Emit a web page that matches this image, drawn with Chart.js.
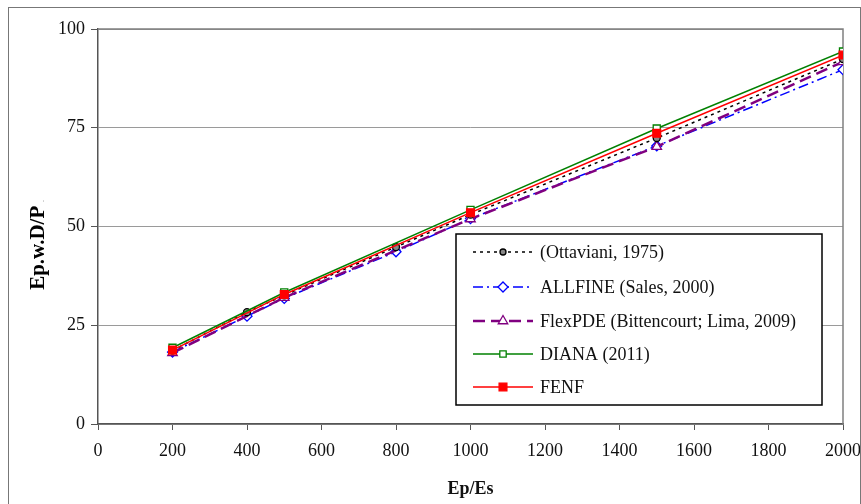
<!DOCTYPE html>
<html>
<head>
<meta charset="utf-8">
<script src="https://cdn.jsdelivr.net/npm/chart.js@4.4.1/dist/chart.umd.min.js"></script>
<style>
    html, body { margin: 0; padding: 0; background: #fff; }
    #wrap { position: relative; width: 861px; height: 504px; overflow: hidden; }
    #frame { position: absolute; left: 8px; top: 7px; width: 851px; height: 510px; border: 1px solid #777; pointer-events: none; }
    #ytitle { position: absolute; left: 37px; top: 245px; transform: translate(-50%, -50%) rotate(-90deg); font-family: "Liberation Serif", serif; font-weight: bold; font-size: 21px; white-space: nowrap; color: #000; }
</style>
</head>
<body>
<div id="wrap">
    <canvas id="chart" width="861" height="504"></canvas>
    <div id="ytitle">Ep.w.D/P <span style="font-size:6px;font-weight:normal">.</span></div>
    <div id="frame"></div>
</div>
<script>
// ===== Data =====
const xTicks = [0, 200, 400, 600, 800, 1000, 1200, 1400, 1600, 1800, 2000];
const yTicks = [0, 25, 50, 75, 100];

const ottavianiX = [200, 400, 500, 800, 1000, 1500, 2000];
const ottavianiY = [18.6, 28.3, 32.6, 44.8, 53.0, 72.4, 92.4];

const allfineX = [200, 400, 500, 800, 1000, 1500, 2000];
const allfineY = [18.2, 27.3, 31.8, 43.6, 52.0, 70.4, 89.7];

const flexX = [200, 500, 1000, 1500, 2000];
const flexY = [18.0, 32.0, 51.9, 70.2, 91.7];

const dianaX = [200, 500, 1000, 1500, 2000];
const dianaY = [19.3, 33.3, 54.2, 74.8, 94.3];

const fenfX = [200, 500, 1000, 1500, 2000];
const fenfY = [18.7, 32.8, 53.5, 73.6, 93.4];

const seriesNames = [
    '(Ottaviani, 1975)',
    'ALLFINE (Sales, 2000)',
    'FlexPDE (Bittencourt; Lima, 2009)',
    'DIANA (2011)',
    'FENF'
];

// ===== Styles =====
const colors = {
    ottaviani: '#000000',
    allfine: '#0000FF',
    flex: '#800080',
    diana: '#008000',
    fenf: '#FF0000',
    grid: '#9a9a9a',
    axis: '#555555'
};

const serif = 'Liberation Serif';

const toPoints = (xs, ys) => xs.map((x, i) => ({ x: x, y: ys[i] }));

const styles = [
    { color: colors.ottaviani, dash: [3, 4], width: 1.5, point: 'circle', radius: 3.5, fill: '#888888', legendRadius: 3 },
    { color: colors.allfine, dash: [10, 4, 2, 4], width: 1.5, point: 'rectRot', radius: 5, fill: '#ffffff', legendRadius: 5 },
    { color: colors.flex, dash: [12, 6], width: 2.5, point: 'triangle', radius: 5.5, fill: '#ffffff', legendRadius: 5.5 },
    { color: colors.diana, dash: [], width: 1.5, point: 'rect', radius: 5, fill: '#ffffff', legendRadius: 4.5 },
    { color: colors.fenf, dash: [], width: 1.5, point: 'rect', radius: 5.5, fill: colors.fenf, legendRadius: 5.5 }
];

const dataSeries = [
    toPoints(ottavianiX, ottavianiY),
    toPoints(allfineX, allfineY),
    toPoints(flexX, flexY),
    toPoints(dianaX, dianaY),
    toPoints(fenfX, fenfY)
];

// red drawn on top, then green, etc.
const drawOrder = [2, 4, 3, 1, 0];

const datasets = dataSeries.map((pts, i) => ({
    label: seriesNames[i],
    data: pts,
    borderColor: styles[i].color,
    borderWidth: styles[i].width,
    borderDash: styles[i].dash,
    pointStyle: styles[i].point,
    pointRadius: styles[i].radius,
    pointBorderWidth: 1.3,
    pointBorderColor: styles[i].color,
    pointBackgroundColor: styles[i].fill,
    tension: 0,
    fill: false,
    order: drawOrder[i]
}));

// ===== Plot area frame (top / right edges) =====
const frameBox = {
    id: 'frameBox',
    beforeDatasetsDraw(chart) {
        const { ctx, chartArea: a } = chart;
        ctx.save();
        ctx.strokeStyle = '#808080';
        ctx.lineWidth = 1.5;
        ctx.beginPath();
        ctx.moveTo(a.left, a.top);
        ctx.lineTo(a.right, a.top);
        ctx.lineTo(a.right, a.bottom);
        ctx.stroke();
        ctx.restore();
    }
};

// ===== Boxed legend in the lower right of the plot =====
const legendBox = {
    id: 'legendBox',
    afterDraw(chart) {
        const ctx = chart.ctx;
        const box = { x: 456, y: 234, w: 366, h: 171 };
        const rowY = [252, 287, 321, 354, 387];
        ctx.save();
        ctx.fillStyle = '#fff';
        ctx.fillRect(box.x, box.y, box.w, box.h);
        ctx.strokeStyle = '#000';
        ctx.lineWidth = 1.5;
        ctx.strokeRect(box.x, box.y, box.w, box.h);

        styles.forEach((st, i) => {
            const y = rowY[i];
            ctx.save();
            ctx.strokeStyle = st.color;
            ctx.lineWidth = st.width;
            ctx.setLineDash(st.dash);
            ctx.beginPath();
            ctx.moveTo(473, y);
            ctx.lineTo(533, y);
            ctx.stroke();
            ctx.restore();

            ctx.save();
            ctx.strokeStyle = st.color;
            ctx.fillStyle = st.fill;
            ctx.lineWidth = 1.3;
            Chart.helpers.drawPoint(ctx, { pointStyle: st.point, radius: st.legendRadius, rotation: 0, borderWidth: 1.3 }, 503, y);
            ctx.restore();

            ctx.fillStyle = '#111';
            ctx.font = '18px "' + serif + '"';
            ctx.textBaseline = 'middle';
            ctx.textAlign = 'left';
            ctx.fillText(seriesNames[i], 540, y + 1);
        });
        ctx.restore();
    }
};

function drawChart() {
    new Chart(document.getElementById('chart'), {
        type: 'line',
        data: { datasets: datasets },
        options: {
            responsive: false,
            animation: false,
            layout: { padding: { left: 0, right: 18, top: 29, bottom: 0 } },
            plugins: {
                legend: { display: false },
                tooltip: { enabled: false }
            },
            scales: {
                x: {
                    type: 'linear',
                    min: 0,
                    max: 2000,
                    afterFit: (s) => { s.height = 80; s.paddingRight = 0; s.paddingLeft = 0; },
                    afterBuildTicks: (s) => { s.ticks = xTicks.map(v => ({ value: v })); },
                    grid: { drawOnChartArea: false, drawTicks: true, tickLength: 6, color: colors.axis },
                    border: { color: colors.axis, width: 1.5 },
                    ticks: {
                        padding: 10,
                        color: '#111',
                        font: { family: serif, size: 18 },
                        maxRotation: 0,
                        callback: (v) => String(v)
                    },
                    title: {
                        display: true,
                        text: 'Ep/Es',
                        color: '#111',
                        font: { family: serif, size: 18, weight: 'bold' },
                        padding: { top: 10 }
                    }
                },
                y: {
                    min: 0,
                    max: 100,
                    afterFit: (s) => { s.width = 98; },
                    afterBuildTicks: (s) => { s.ticks = yTicks.map(v => ({ value: v })); },
                    grid: { color: colors.grid, lineWidth: 1, drawTicks: true, tickLength: 7, tickColor: colors.axis },
                    border: { color: colors.axis, width: 1.5 },
                    ticks: {
                        padding: 6,
                        color: '#111',
                        font: { family: serif, size: 18 }
                    }
                }
            }
        },
        plugins: [frameBox, legendBox]
    });
}

// make sure the serif face is ready before the canvas text is drawn
Promise.all([
    document.fonts.load('18px "' + serif + '"'),
    document.fonts.load('bold 18px "' + serif + '"')
]).then(drawChart, drawChart);
</script>
</body>
</html>
